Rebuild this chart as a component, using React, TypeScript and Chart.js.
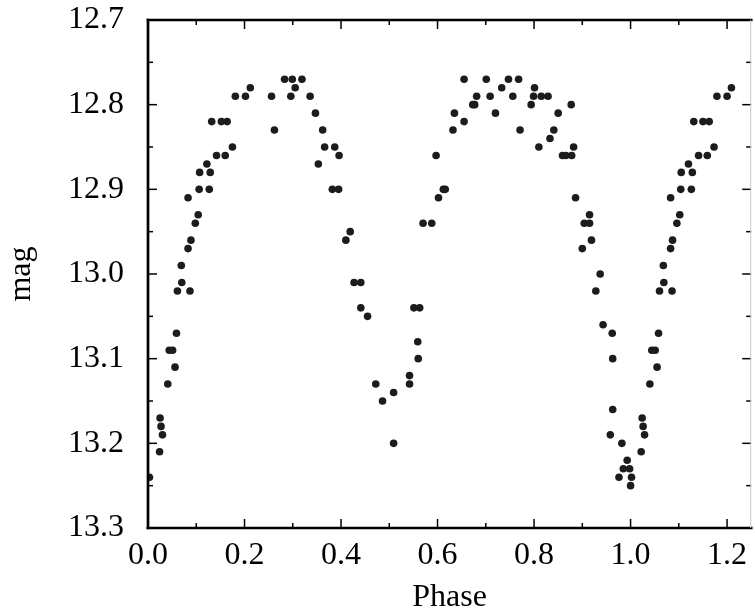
import React, { useEffect, useRef } from "react";
import { Chart, registerables } from "chart.js";

Chart.register(...registerables);

// Data
const phase = [
  0.003, 0.024, 0.025, 0.027, 0.030, 0.041, 0.044, 0.051, 0.056, 0.059,
  0.061, 0.069, 0.070, 0.083, 0.083, 0.087, 0.089, 0.098, 0.104, 0.106,
  0.107, 0.122, 0.127, 0.129, 0.132, 0.142, 0.152, 0.160, 0.164, 0.175,
  0.181, 0.202, 0.212, 0.256, 0.262, 0.283, 0.296, 0.299, 0.305, 0.319,
  0.336, 0.347, 0.353, 0.362, 0.366, 0.382, 0.387, 0.395, 0.396, 0.410,
  0.419, 0.427, 0.441, 0.441, 0.455, 0.472, 0.486, 0.509, 0.509, 0.542,
  0.542, 0.551, 0.559, 0.560, 0.563, 0.570, 0.588, 0.597, 0.602, 0.612,
  0.616, 0.632, 0.635, 0.655, 0.655, 0.673, 0.677, 0.681, 0.701, 0.709,
  0.720, 0.733, 0.747, 0.756, 0.768, 0.771, 0.794, 0.799, 0.801, 0.810,
  0.815, 0.829, 0.833, 0.841, 0.850, 0.859, 0.866, 0.877, 0.878, 0.882,
  0.886, 0.900, 0.904, 0.915, 0.915, 0.919, 0.928, 0.937, 0.943, 0.958,
  0.962, 0.963, 0.963, 0.976, 0.982, 0.985, 0.993, 0.998, 1.000, 1.002,
  1.022, 1.024, 1.026, 1.029, 1.040, 1.044, 1.051, 1.055, 1.058, 1.060,
  1.068, 1.069, 1.083, 1.083, 1.086, 1.087, 1.096, 1.102, 1.104, 1.105,
  1.120, 1.126, 1.128, 1.131, 1.141, 1.150, 1.159, 1.163, 1.173, 1.179,
  1.200, 1.209,
];

const mag = [
  13.24, 13.21, 13.17, 13.18, 13.19, 13.13, 13.09, 13.09, 13.11, 13.07,
  13.02, 12.99, 13.01, 12.97, 12.91, 13.02, 12.96, 12.94, 12.93, 12.90,
  12.88, 12.87, 12.90, 12.88, 12.82, 12.86, 12.82, 12.86, 12.82, 12.85,
  12.79, 12.79, 12.78, 12.79, 12.83, 12.77, 12.79, 12.77, 12.78, 12.77,
  12.79, 12.81, 12.87, 12.83, 12.85, 12.90, 12.85, 12.90, 12.86, 12.96,
  12.95, 13.01, 13.01, 13.04, 13.05, 13.13, 13.15, 13.14, 13.20, 13.13,
  13.12, 13.04, 13.08, 13.10, 13.04, 12.94, 12.94, 12.86, 12.91, 12.90,
  12.90, 12.83, 12.81, 12.77, 12.82, 12.80, 12.80, 12.79, 12.77, 12.79,
  12.81, 12.78, 12.77, 12.79, 12.77, 12.83, 12.80, 12.79, 12.78, 12.85,
  12.79, 12.79, 12.84, 12.83, 12.81, 12.86, 12.86, 12.80, 12.86, 12.85,
  12.91, 12.97, 12.94, 12.93, 12.94, 12.96, 13.02, 13.00, 13.06, 13.19,
  13.07, 13.10, 13.16, 13.24, 13.20, 13.23, 13.22, 13.23, 13.25, 13.24,
  13.21, 13.17, 13.18, 13.19, 13.13, 13.09, 13.09, 13.11, 13.07, 13.02,
  12.99, 13.01, 12.97, 12.91, 13.02, 12.96, 12.94, 12.93, 12.90, 12.88,
  12.87, 12.90, 12.88, 12.82, 12.86, 12.82, 12.86, 12.82, 12.85, 12.79,
  12.79, 12.78,
];

const xTickValues = [0, 0.2, 0.4, 0.6, 0.8, 1.0, 1.2];
const xMinorTicks = [0.1, 0.3, 0.5, 0.7, 0.9, 1.1];
const yTickValues = [12.7, 12.8, 12.9, 13.0, 13.1, 13.2, 13.3];
const yMinorTicks = [12.75, 12.85, 12.95, 13.05, 13.15, 13.25];
const xTitle = "Phase";
const yTitle = "mag";

const FONT = "'Liberation Serif', 'Times New Roman', Times, serif";

const framePlugin = {
  id: "frameTicks",
  afterDraw(chart: any) {
    const { ctx, chartArea: a, scales } = chart;
    const xs = scales.x;
    const ys = scales.y;
    const line = (x1: number, y1: number, x2: number, y2: number) => {
      ctx.beginPath();
      ctx.moveTo(x1, y1);
      ctx.lineTo(x2, y2);
      ctx.stroke();
    };
    ctx.save();
    ctx.strokeStyle = "#000";
    ctx.lineWidth = 1.5;
    const xTick = (v: number, len: number) => {
      const p = xs.getPixelForValue(v);
      line(p, a.bottom, p, a.bottom - len);
      line(p, a.top, p, a.top + len);
    };
    const yTick = (v: number, len: number) => {
      const p = ys.getPixelForValue(v);
      line(a.left, p, a.left + len, p);
      line(a.right, p, a.right - len, p);
    };
    xTickValues.forEach((v) => xTick(v, 9));
    xMinorTicks.forEach((v) => xTick(v, 5));
    yTickValues.forEach((v) => yTick(v, 9));
    yMinorTicks.forEach((v) => yTick(v, 5));

    // frame
    ctx.lineWidth = 2.7;
    ctx.lineCap = "square";
    line(a.left, a.top, a.right, a.top);
    line(a.left, a.top, a.left, a.bottom);
    line(a.left, a.bottom, a.right, a.bottom);
    ctx.lineWidth = 1;
    ctx.lineCap = "butt";
    ctx.strokeStyle = "#c8c8c8";
    line(a.right - 0.5, a.top, a.right - 0.5, a.bottom);
    ctx.restore();
  },
};

export default function App() {
  const canvasRef = useRef<HTMLCanvasElement | null>(null);

  useEffect(() => {
    document.body.style.margin = "0";
    const canvas = canvasRef.current;
    if (!canvas) return;
    const chart = new Chart(canvas, {
      type: "scatter",
      data: {
        datasets: [
          {
            data: phase.map((p, i) => ({ x: p, y: mag[i] })),
            pointRadius: 3.8,
            pointHoverRadius: 3.8,
            backgroundColor: "#1c1c1c",
            borderWidth: 0,
          },
        ],
      },
      options: {
        responsive: false,
        devicePixelRatio: 1,
        animation: false,
        layout: { padding: { top: 20, left: 0, right: 0, bottom: 0 } },
        plugins: {
          legend: { display: false },
          tooltip: { enabled: false },
        },
        scales: {
          x: {
            type: "linear",
            min: 0,
            max: 1.25,
            afterBuildTicks: (s: any) => {
              s.ticks = xTickValues.map((v) => ({ value: v }));
            },
            afterFit: (s: any) => {
              s.height = 85;
              s.paddingLeft = 0;
              s.paddingRight = 0;
            },
            grid: { display: false },
            border: { display: false },
            ticks: {
              autoSkip: false,
              maxRotation: 0,
              padding: 4,
              color: "#000",
              font: { family: FONT, size: 32, lineHeight: 1 },
              callback: (v: any) => Number(v).toFixed(1),
            },
            title: {
              display: true,
              text: xTitle,
              color: "#000",
              font: { family: FONT, size: 32, lineHeight: 1 },
              padding: { top: 0, bottom: -1 },
            },
          },
          y: {
            type: "linear",
            reverse: true,
            min: 12.7,
            max: 13.3,
            afterBuildTicks: (s: any) => {
              s.ticks = yTickValues.map((v) => ({ value: v }));
            },
            afterFit: (s: any) => {
              s.width = 148;
              s.paddingTop = 0;
              s.paddingBottom = 0;
            },
            grid: { display: false },
            border: { display: false },
            ticks: {
              autoSkip: false,
              padding: 16,
              color: "#000",
              font: { family: FONT, size: 32, lineHeight: 1 },
              callback: (v: any) => Number(v).toFixed(1),
            },
            title: {
              display: true,
              text: yTitle,
              color: "#000",
              font: { family: FONT, size: 32, lineHeight: 1 },
              padding: { top: 6, bottom: 0 },
            },
          },
        },
      },
      plugins: [framePlugin],
    } as any);
    return () => chart.destroy();
  }, []);

  return (
    <div style={{ width: 755, height: 613, background: "#fff" }}>
      <canvas ref={canvasRef} width={755} height={613} style={{ display: "block" }} />
    </div>
  );
}
